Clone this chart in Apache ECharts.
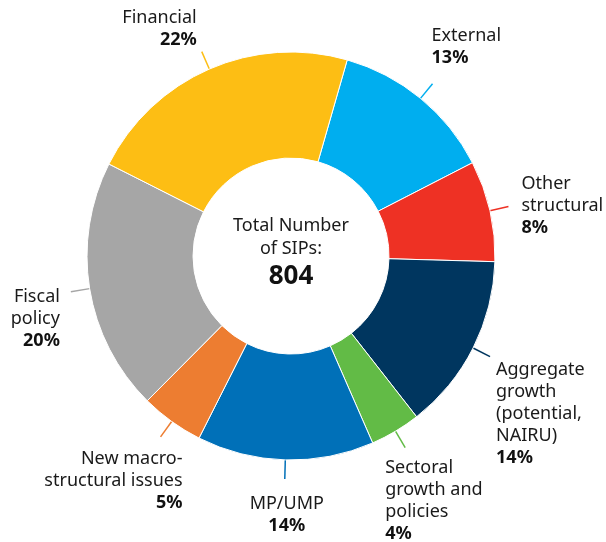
<!DOCTYPE html>
<html>
<head>
<meta charset="utf-8">
<title>Total Number of SIPs</title>
<script src="https://cdn.jsdelivr.net/npm/echarts@6/dist/echarts.min.js"></script>
<style>
  html, body { margin: 0; padding: 0; background: #fff; }
  #chart { width: 606px; height: 542px; }
</style>
</head>
<body>
<div id="chart"></div>
<script>
// data (clockwise from the top)
const categories = ['External', 'Other structural', 'Aggregate growth (potential, NAIRU)',
  'Sectoral growth and policies', 'MP/UMP', 'New macro-structural issues', 'Fiscal policy', 'Financial'];
const labelLines = [['External'], ['Other', 'structural'], ['Aggregate', 'growth', '(potential,', 'NAIRU)'],
  ['Sectoral', 'growth and', 'policies'], ['MP/UMP'], ['New macro-', 'structural issues'], ['Fiscal', 'policy'], ['Financial']];
const shares = [13, 8, 14, 4, 14, 5, 20, 22];
const totalSIPs = 804;

const colors = ['#00aeef', '#ee3124', '#00365f', '#62bb46', '#0070b8', '#ed7d31', '#a6a6a6', '#fdbe14'];

// where each label sits relative to the end of its leader line
const placement = [
  { align: 'left', va: 'bottom', dx: -1, dy: -15 },
  { align: 'left', va: 'middle', dx: 13, dy: -1 },
  { align: 'left', va: 'top', dx: 6, dy: 2 },
  { align: 'left', va: 'top', dx: -20, dy: 9 },
  { align: 'center', va: 'top', dx: 2, dy: 14 },
  { align: 'right', va: 'top', dx: 22, dy: 11 },
  { align: 'right', va: 'middle', dx: -11, dy: 27 },
  { align: 'right', va: 'bottom', dx: -5, dy: -1 }
];

const font = '"Noto Sans", "Open Sans", sans-serif';
const chart = echarts.init(document.getElementById('chart'));

const option = {
  animation: false,
  color: colors,
  textStyle: { fontFamily: font },
  graphic: [{
    type: 'text',
    x: 291,
    y: 214,
    style: {
      text: '{a|Total Number}\n{a|of SIPs:}\n{b|' + totalSIPs + '}',
      align: 'center',
      verticalAlign: 'top',
      rich: {
        a: { fontFamily: font, fontSize: 18, lineHeight: 23, fill: '#1a1a1a', align: 'center' },
        b: { fontFamily: font, fontSize: 26, fontWeight: 'bold', lineHeight: 34, fill: '#111', align: 'center' }
      }
    }
  }],
  series: [{
    type: 'pie',
    center: [291, 256],
    radius: [98, 204],
    startAngle: 74,
    clockwise: true,
    avoidLabelOverlap: false,
    itemStyle: { borderColor: '#fff', borderWidth: 1 },
    label: {
      show: true,
      position: 'outside',
      formatter: function (p) {
        const lines = labelLines[p.dataIndex].map(function (s) { return '{n|' + s + '}'; });
        return lines.join('\n') + '\n{p|' + p.value + '%}';
      },
      rich: {
        n: { fontFamily: font, fontSize: 18, lineHeight: 22, color: '#1a1a1a' },
        p: { fontFamily: font, fontSize: 18, lineHeight: 22, fontWeight: 'bold', color: '#111' }
      }
    },
    labelLine: { show: true, length: 19, length2: 0, lineStyle: { width: 1.5 } },
    labelLayout: function (p) {
      const pl = placement[p.dataIndex];
      const pts = p.labelLinePoints;
      const end = pts[pts.length - 1];
      return {
        x: end[0] + pl.dx,
        y: end[1] + pl.dy,
        align: pl.align,
        verticalAlign: pl.va,
        labelLinePoints: pts
      };
    },
    emphasis: { disabled: true },
    data: categories.map(function (c, i) { return { name: c, value: shares[i] }; })
  }]
};

chart.setOption(option);
</script>
</body>
</html>
